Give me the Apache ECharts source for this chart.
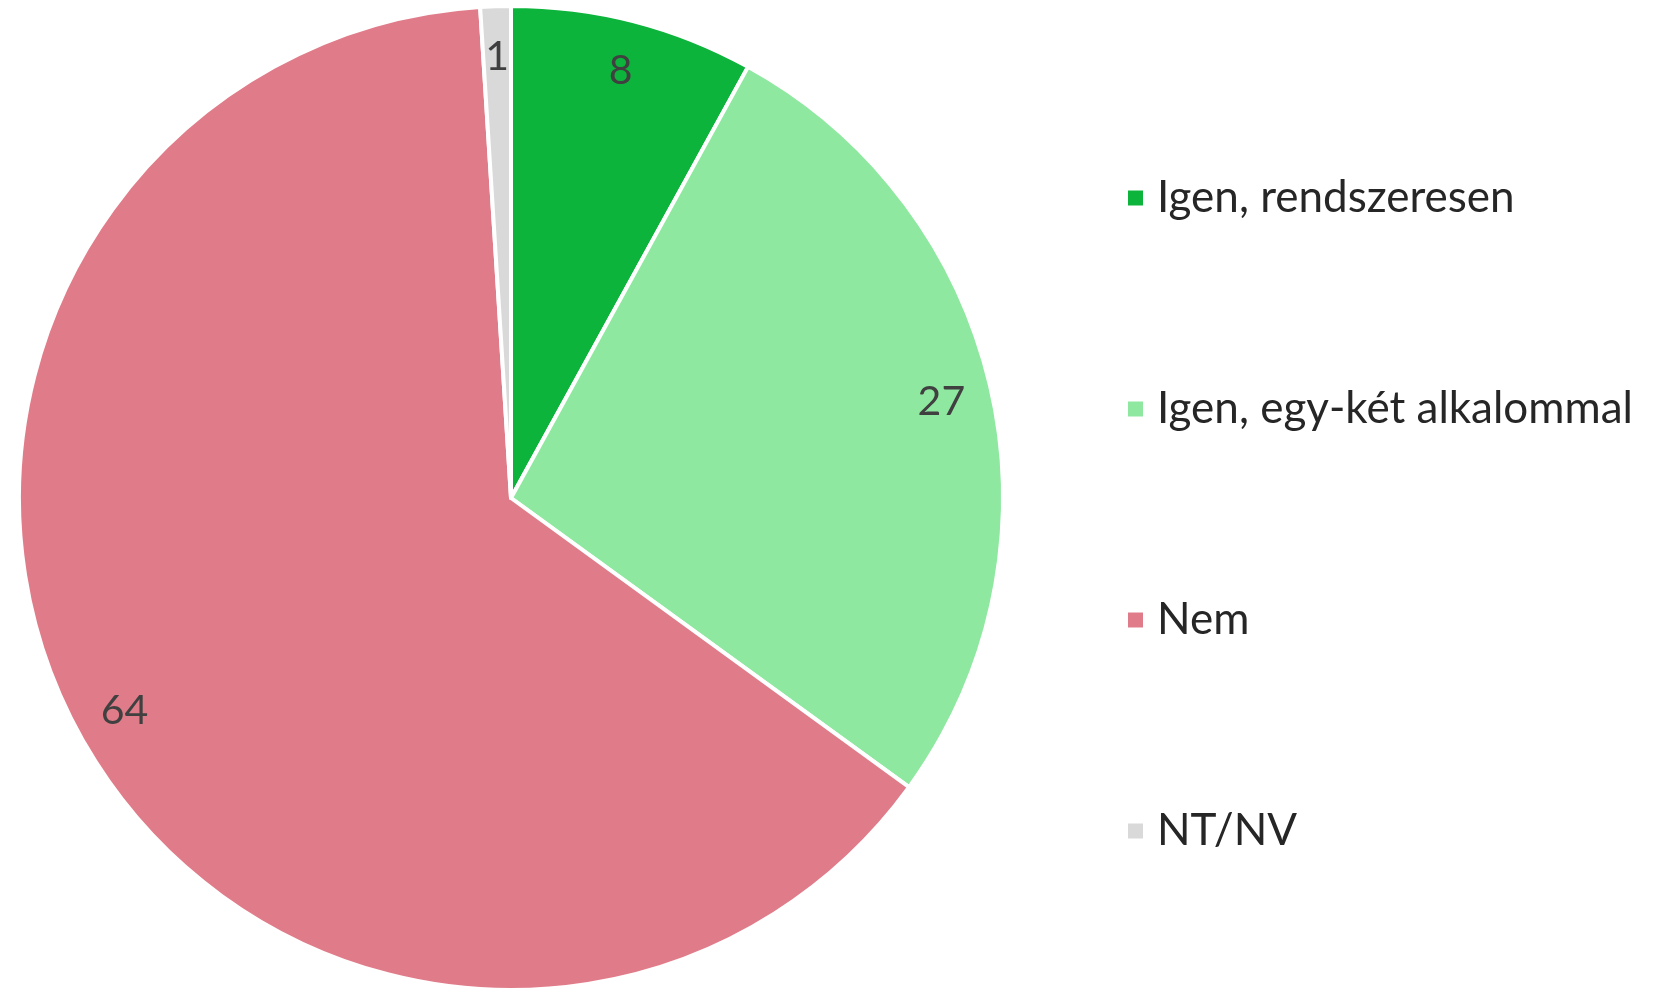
<!DOCTYPE html>
<html>
<head>
<meta charset="utf-8">
<script src="https://cdn.jsdelivr.net/npm/echarts@6/dist/echarts.min.js"></script>
<style>
    html, body { margin: 0; padding: 0; background: #fff; }
    #chart { width: 1654px; height: 990px; }
</style>
</head>
<body>
<div id="chart"></div>
<script>
    // adatok
    var names = ['Igen, rendszeresen', 'Igen, egy-két alkalommal', 'Nem', 'NT/NV'];
    var values = [8, 27, 64, 1];
    var colors = ['#0db43c', '#8ee8a0', '#e07c89', '#d9d9d9'];

    var pieData = names.map(function (n, i) {
        return { name: n, value: values[i], itemStyle: { color: colors[i] } };
    });
    // csak a feliratokhoz, átlátszó
    var labelData = names.map(function (n, i) {
        return { name: n, value: values[i], itemStyle: { color: 'rgba(0,0,0,0)' } };
    });

    var chart = echarts.init(document.getElementById('chart'));
    var option = {
        animation: false,
        legend: {
            orient: 'vertical',
            left: 1121,
            top: 168,
            itemWidth: 17,
            itemHeight: 17,
            itemGap: 161,
            icon: 'rect',
            data: names,
            textStyle: {
                fontFamily: 'Lato',
                fontSize: 44,
                lineHeight: 50,
                color: '#262626',
                padding: [0, 0, 0, 8]
            }
        },
        series: [
            {
                name: 'main',
                type: 'pie',
                center: [511, 498],
                radius: [0, 492],
                startAngle: 90,
                itemStyle: { borderColor: '#fff', borderWidth: 4 },
                label: { show: false },
                labelLine: { show: false },
                emphasis: { disabled: true },
                data: pieData
            },
            {
                name: 'labels',
                type: 'pie',
                silent: true,
                center: [511, 498],
                radius: [384, 492],
                startAngle: 90,
                itemStyle: { borderWidth: 0 },
                label: {
                    show: true,
                    position: 'inside',
                    formatter: '{c}',
                    fontFamily: 'Lato',
                    fontSize: 41,
                    color: '#404040'
                },
                labelLine: { show: false },
                emphasis: { disabled: true },
                data: labelData
            }
        ]
    };
    chart.setOption(option);
</script>
</body>
</html>
